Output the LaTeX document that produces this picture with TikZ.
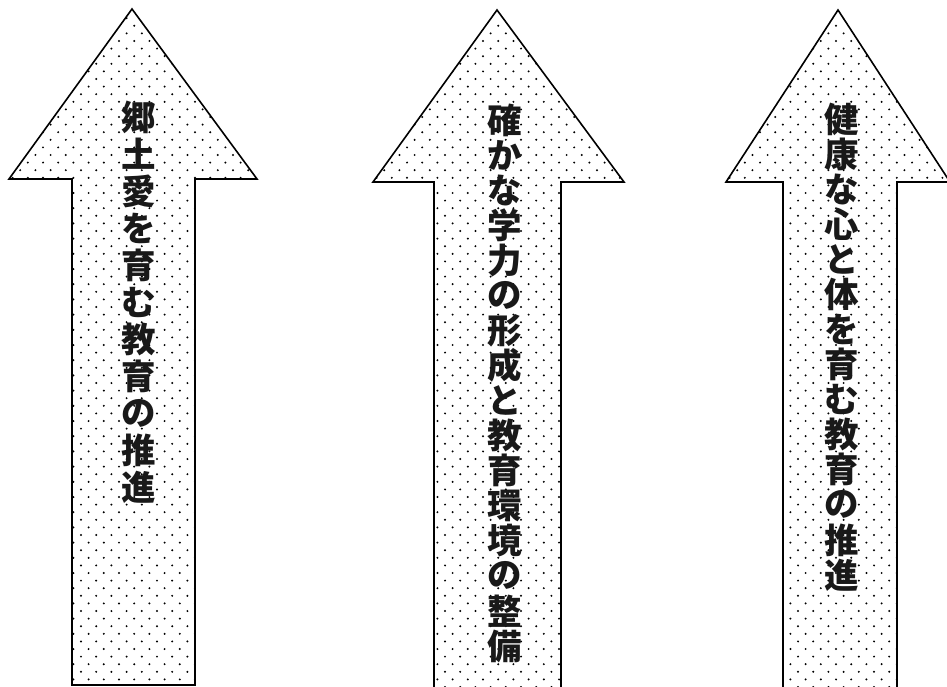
\documentclass[tikz,border=0pt]{standalone}
\usepackage{fontspec}
\newfontfamily\cjk{Noto Sans CJK JP Black}
\begin{document}
\begin{tikzpicture}[x=1pt,y=-1pt,
  outline/.style={draw=black,line width=1.6pt,line join=miter},
  ch/.style={font=\cjk\fontsize{34.5}{34.5}\selectfont,inner sep=0pt,text=black!90}]
\clip (0,0) rectangle (947,687);
\fill[white] (0,0) rectangle (947,687);
% dotted fill helper
\newcommand\dotfield[3]{% x0, x1, count of columns
  \foreach \r in {0,...,92}{
    \pgfmathsetmacro\yy{3+7.6*\r}
    \pgfmathsetmacro\off{mod(\r,2)*7.6}
    \foreach \c in {0,...,#3}{
      \pgfmathsetmacro\xx{#1+\off+15.2*\c}
      \fill (\xx,\yy) circle[radius=1.1];
    }
  }}
% arrow 1
\path[save path=\pA] (132,9) -- (257,179) -- (195,179) -- (195,685) -- (72,685) -- (72,179) -- (9,179) -- cycle;
\begin{scope}
  \path[clip,use path=\pA];
  \dotfield{5}{260}{17}
\end{scope}
\path[outline,use path=\pA];
% arrow 2
\path[save path=\pB] (497,10) -- (624,182) -- (561,182) -- (561,700) -- (434,700) -- (434,182) -- (373,182) -- cycle;
\begin{scope}
  \path[clip,use path=\pB];
  \dotfield{369}{630}{17}
\end{scope}
\path[outline,use path=\pB];
% arrow 3
\path[save path=\pC] (838,10) -- (950,182) -- (897,182) -- (897,700) -- (783,700) -- (783,182) -- (726,182) -- cycle;
\begin{scope}
  \path[clip,use path=\pC];
  \dotfield{722}{955}{16}
\end{scope}
\path[outline,use path=\pC];
% texts
\foreach \t [count=\i] in {郷,土,愛,を,育,む,教,育,の,推,進}
  \node[ch] (aa\i) at (139,{117+37*(\i-1)}) {\t};
\foreach \t [count=\i] in {確,か,な,学,力,の,形,成,と,教,育,環,境,の,整,備}
  \node[ch] (bb\i) at (505,{120+35.07*(\i-1)}) {\t};
\foreach \t [count=\i] in {健,康,な,心,と,体,を,育,む,教,育,の,推,進}
  \node[ch] (cc\i) at (842,{119+35.08*(\i-1)}) {\t};
\end{tikzpicture}
\end{document}
